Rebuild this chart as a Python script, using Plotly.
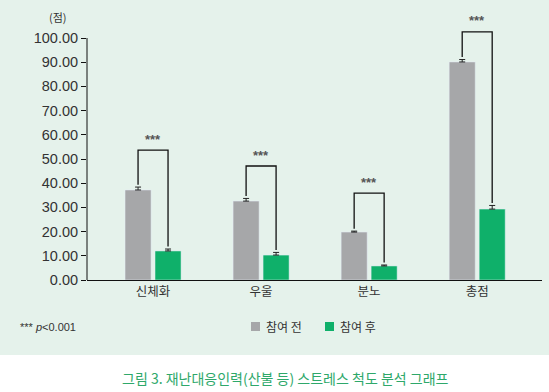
import plotly.graph_objects as go

categories = ["신체화", "우울", "분노", "총점"]
before_vals = [37.2, 32.6, 19.8, 90.1]
after_vals = [12.0, 10.3, 5.8, 29.3]
before_err = [1.2, 1.1, 0.4, 1.0]
after_err = [0.8, 1.1, 0.4, 1.5]
bracket_levels = [53.7, 47.1, 35.9, 102.5]
sig_labels = ["***", "***", "***", "***"]
y_ticks = [0, 10, 20, 30, 40, 50, 60, 70, 80, 90, 100]
series_names = ["참여 전", "참여 후"]

GRAY = "#a6a7a9"
GREEN = "#0fb06a"
MINT = "#e5f2eb"
KFONT = "Noto Sans CJK KR"
NFONT = "Liberation Sans"

W, H = 549, 392
ML, MR, MT, MB = 87, 7, 14, 112
PW, PH = W - ML - MR, H - MT - MB


def px(xp):
    return (xp - ML) / PW


def py(yp):
    return (H - MB - yp) / PH


BW = 0.241
OFF_B = -0.259
OFF_A = 0.0185

fig = go.Figure()
fig.add_trace(go.Bar(
    x=categories, y=before_vals, name=series_names[0], marker_color=GRAY,
    width=BW, offset=OFF_B, showlegend=False,
    error_y=dict(type="data", array=before_err, arrayminus=[0]*4, symmetric=False,
                 color="#222", thickness=1, width=3),
))
fig.add_trace(go.Bar(
    x=categories, y=after_vals, name=series_names[1], marker_color=GREEN,
    width=BW, offset=OFF_A, showlegend=False,
    error_y=dict(type="data", array=after_err, arrayminus=[0]*4, symmetric=False,
                 color="#222", thickness=1, width=3),
))

shapes = [
    dict(type="rect", xref="paper", yref="paper", x0=px(0), x1=px(W),
         y0=py(355), y1=py(0), fillcolor=MINT, line_width=0, layer="below"),
    dict(type="line", xref="paper", yref="y", x0=0, x1=0, y0=0, y1=100,
         line=dict(color="#111", width=1)),
]
annotations = []
gap = 1.0
for i, cat in enumerate(categories):
    xb = i + OFF_B + BW / 2
    xa = i + OFF_A + BW / 2
    top = bracket_levels[i]
    yb = before_vals[i] + before_err[i] + gap
    ya = after_vals[i] + after_err[i] + gap
    shapes.append(dict(type="path", xref="x", yref="y",
                       path=f"M {xb},{yb} L {xb},{top} L {xa},{top} L {xa},{ya}",
                       line=dict(color="#111", width=1.3)))
    annotations.append(dict(x=i, y=top, xref="x", yref="y", text="<b>" + sig_labels[i] + "</b>",
                            showarrow=False, yshift=11,
                            font=dict(family=NFONT, size=13, color="#555")))

legend_colors = [GRAY, GREEN]
sq_x = [251, 325]
txt_x = [264, 338]
for name, col, sx, tx in zip(series_names, legend_colors, sq_x, txt_x):
    shapes.append(dict(type="rect", xref="paper", yref="paper",
                       x0=px(sx), x1=px(sx + 9), y0=py(331), y1=py(322),
                       fillcolor=col, line_width=0))
    annotations.append(dict(xref="paper", yref="paper", x=px(tx), y=py(326.5),
                            text=name, showarrow=False, xanchor="left", yanchor="middle",
                            font=dict(family=KFONT, size=12, color="#333")))

annotations.append(dict(xref="paper", yref="paper", x=px(58), y=py(17),
                        text="(점)", showarrow=False, xanchor="center", yanchor="middle",
                        font=dict(family=KFONT, size=11, color="#333")))
annotations.append(dict(xref="paper", yref="paper", x=px(18), y=py(326.5),
                        text="*** <i>p</i>&lt;0.001", showarrow=False, xanchor="left",
                        yanchor="middle",
                        font=dict(family=NFONT, size=11, color="#333")))
annotations.append(dict(xref="paper", yref="paper", x=px(285), y=py(378),
                        text="그림 3. 재난대응인력(산불 등) 스트레스 척도 분석 그래프",
                        showarrow=False, xanchor="center", yanchor="middle",
                        font=dict(family=KFONT, size=14, color="#2ea86a")))

fig.update_layout(
    width=W, height=H,
    margin=dict(l=ML, r=MR, t=MT, b=MB, autoexpand=False),
    paper_bgcolor="white",
    plot_bgcolor="rgba(0,0,0,0)",
    shapes=shapes,
    annotations=annotations,
    showlegend=False,
    xaxis=dict(range=[-0.611, 3.6], showline=True, linecolor="#111", linewidth=1,
               ticks="", tickfont=dict(family=KFONT, size=12.5, color="#333"),
               showgrid=False, zeroline=False, automargin=False),
    yaxis=dict(range=[0, 100 * PH / 242], tickvals=y_ticks, tickformat=".2f",
               showline=False, ticks="outside", ticklen=5, tickcolor="#111",
               tickfont=dict(family=NFONT, size=14.5, color="#333"),
               showgrid=False, zeroline=False, automargin=False),
)

fig.write_html("out.html", config={"displayModeBar": False},
               post_script="document.body.style.margin='0';document.body.style.padding='0';")
